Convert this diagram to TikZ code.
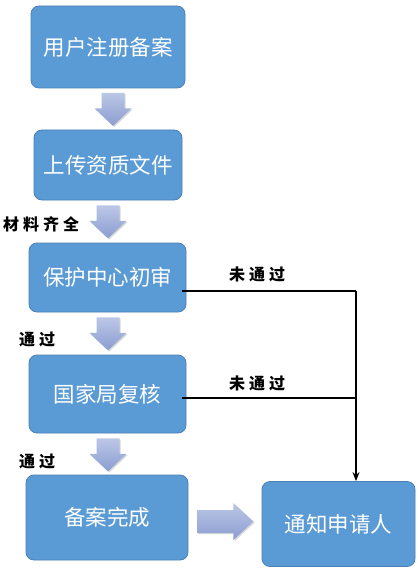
\documentclass[tikz,border=0pt]{standalone}
\usepackage{fontspec}
\newfontfamily\cjk{Noto Sans CJK SC}
\newfontfamily\cjklab[LetterSpace=25]{Noto Sans CJK SC}
\usetikzlibrary{arrows.meta,shadows,calc}
\definecolor{boxblue}{HTML}{5B9BD5}
\definecolor{boxedge}{HTML}{4A80B8}
\definecolor{arrtop}{HTML}{BCC7E6}
\definecolor{arrbot}{HTML}{8B9DD1}
\tikzset{
  x=1pt, y=1pt,
  stepbox/.style={rounded corners=8pt, fill=boxblue, draw=boxedge, line width=0.8pt,
    text=white, font=\cjk\fontsize{21.5}{25}\selectfont, inner sep=0pt, align=center},
  lab/.style={font=\cjklab\bfseries\fontsize{16}{19}\selectfont, inner sep=0pt, text=black},
  conn/.style={line width=1.3pt, draw=black},
  arrfill/.style={top color=arrtop, bottom color=arrbot, draw=none,
    drop shadow={shadow xshift=1.2pt, shadow yshift=-1.2pt, opacity=0.15, fill=black}},
  darr/.pic={\path[arrfill] (-11.5,0) -- (11.5,0) -- (11.5,-15.5) -- (18.5,-15.5)
      -- (0,-33) -- (-18.5,-15.5) -- (-11.5,-15.5) -- cycle;},
  rarr/.pic={\path[arrfill] (0,11.5) -- (36,11.5) -- (36,18.5) -- (56,0)
      -- (36,-18.5) -- (36,-11.5) -- (0,-11.5) -- cycle;}
}
\begin{document}
\begin{tikzpicture}
\useasboundingbox[fill=white] (0,0) rectangle (417,-572);

\node[stepbox, minimum width=154, minimum height=82] (b1) at (108,-47) {用户注册备案};
\node[stepbox, minimum width=148, minimum height=70] (b2) at (108,-165) {上传资质文件};
\node[stepbox, minimum width=157, minimum height=69] (b3) at (107.5,-277.5) {保护中心初审};
\node[stepbox, minimum width=157, minimum height=78] (b4) at (107.5,-394) {国家局复核};
\node[stepbox, minimum width=162, minimum height=85] (b5) at (107,-517.5) {备案完成};
\node[stepbox, minimum width=153, minimum height=85] (b6) at (338.5,-524) {通知申请人};

\pic at ($(b1.south)+(5,-4.5)$) {darr};
\pic at ($(b2.south)+(0,-5)$) {darr};
\pic at ($(b3.south)+(0.5,-5)$) {darr};
\pic at ($(b4.south)+(0.5,-5)$) {darr};
\pic at ($(b5.east)+(9,-4)$) {rarr};

\node[lab] (l1) at (41,-224) {材料齐全};
\node[lab] (l2) at (37,-340) {通过};
\node[lab] (l3) at (37,-462) {通过};
\node[lab] (l4) at (257,-274) {未通过};
\node[lab] (l5) at (257,-383) {未通过};

\coordinate (j1) at (356,-291);
\coordinate (j2) at (356,-398);
\draw[conn] ([xshift=-4pt]b3.east |- j1) -- (j1);
\draw[conn] ([xshift=-4pt]b4.east |- j2) -- (j2);
\draw[conn, -{Stealth[length=9pt,width=7pt]}] (j1) -- (j1 |- b6.north);
\end{tikzpicture}
\end{document}
